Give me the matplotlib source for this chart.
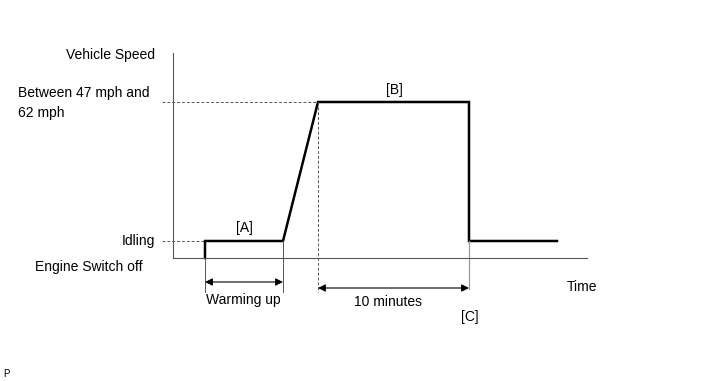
import matplotlib
matplotlib.use("Agg")
import matplotlib.pyplot as plt

plt.rcParams['font.family'] = ['Liberation Sans', 'DejaVu Sans']

# speed levels (arbitrary units, engine off = 0)
speed_off = 0
speed_idle = 17
speed_high = 156

# time points (arbitrary units)
t_start = 32
t_warm_end = 110
t_reach = 145
t_high_end = 296
t_line_end = 384
t_axis_end = 414
v_axis_top = 205

trace_t = [t_start, t_start, t_warm_end, t_reach, t_high_end, t_high_end, t_line_end]
trace_v = [speed_off, speed_idle, speed_idle, speed_high, speed_high, speed_idle, speed_idle]

fig = plt.figure(figsize=(7.13, 3.81), dpi=100)
W, H = 713, 381
ax = fig.add_axes([173 / W, (H - 258) / H, t_axis_end / W, v_axis_top / H])
ax.set_xlim(0, t_axis_end)
ax.set_ylim(0, v_axis_top)
for s in ['top', 'right']:
    ax.spines[s].set_visible(False)
for s in ['left', 'bottom']:
    ax.spines[s].set_color('#555555')
    ax.spines[s].set_linewidth(0.8)
ax.set_xticks([])
ax.set_yticks([])
ax.patch.set_alpha(0)

grey = '#555555'
fs = 10

# speed trace
ax.plot(trace_t, trace_v, color='black', lw=1.8, clip_on=False, solid_joinstyle='miter')

# dashed guides
ax.plot([-11, t_start], [speed_idle, speed_idle], color=grey, lw=0.7, ls=(0, (3, 2)), clip_on=False)
ax.plot([-11, t_reach], [speed_high, speed_high], color=grey, lw=0.7, ls=(0, (3, 2)), clip_on=False)
ax.plot([t_reach, t_reach], [speed_high, -34], color=grey, lw=0.7, ls=(0, (3, 2)), clip_on=False)

# extension lines
ax.plot([t_start, t_start], [speed_off, -34], color=grey, lw=0.7, clip_on=False)
ax.plot([t_warm_end, t_warm_end], [speed_idle, -34], color=grey, lw=0.7, clip_on=False)
ax.plot([t_high_end, t_high_end], [speed_idle, -31], color='#999999', lw=0.9, clip_on=False)

# dimension arrows
arrow_kw = dict(arrowstyle='<|-|>', color='black', lw=0.8, mutation_scale=11, shrinkA=0, shrinkB=0)
ax.annotate('', xy=(t_start, -24), xytext=(t_warm_end, -24), arrowprops=arrow_kw, annotation_clip=False)
ax.annotate('', xy=(t_reach, -30), xytext=(t_high_end, -30), arrowprops=arrow_kw, annotation_clip=False)

# labels on the chart
ax.text((t_start + t_warm_end) / 2, speed_idle + 6, '[A]', ha='center', va='bottom', fontsize=fs)
ax.text((t_reach + t_high_end) / 2 + 1, speed_high + 5, '[B]', ha='center', va='bottom', fontsize=fs)
ax.text((t_start + t_warm_end) / 2 - 1, -35, 'Warming up', ha='center', va='top', fontsize=fs)
ax.text((t_reach + t_high_end) / 2 - 5, -37, '10 minutes', ha='center', va='top', fontsize=fs)
ax.text(t_high_end + 1, -52, '[C]', ha='center', va='top', fontsize=fs)
ax.text(t_axis_end - 20, -29, 'Time', ha='left', va='center', fontsize=fs)

# y-side labels
ax.text(-18, v_axis_top - 2, 'Vehicle Speed', ha='right', va='center', fontsize=fs)
ax.text(-155, speed_high - 1, 'Between 47 mph and\n62 mph', ha='left', va='center', fontsize=fs, linespacing=1.5)
ax.text(-18, speed_idle, 'Idling', ha='right', va='center', fontsize=fs)
ax.text(-30, -9, 'Engine Switch off', ha='right', va='center', fontsize=fs)

fig.text(3 / W, (H - 377) / H, 'P', fontsize=7)

fig.savefig('out.png', dpi=100)
